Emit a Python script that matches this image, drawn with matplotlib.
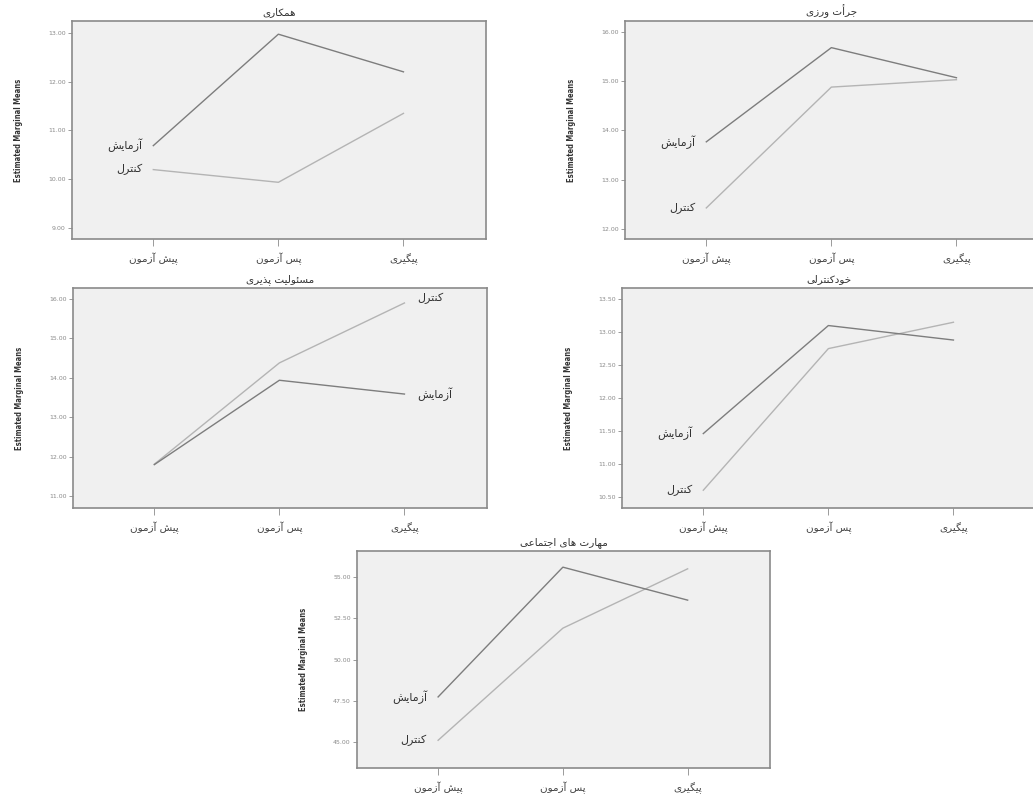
import matplotlib
matplotlib.use('Agg')
import matplotlib.pyplot as plt

# ---------------- data ----------------
time_labels = ['پیش آزمون', 'پس آزمون', 'پیگیری']
group_exp = 'آزمایش'
group_ctrl = 'کنترل'
ylabel_text = 'Estimated Marginal Means'

title_coop = 'همکاری'
title_assert = 'جرأت ورزی'
title_resp = 'مسئولیت پذیری'
title_selfc = 'خودکنترلی'
title_social = 'مهارت های اجتماعی'

coop_exp = [10.69, 12.97, 12.20]
coop_ctrl = [10.20, 9.94, 11.35]
coop_ticks = [9.0, 10.0, 11.0, 12.0, 13.0]

assert_exp = [13.77, 15.68, 15.07]
assert_ctrl = [12.43, 14.88, 15.03]
assert_ticks = [12.0, 13.0, 14.0, 15.0, 16.0]

resp_exp = [11.80, 13.94, 13.59]
resp_ctrl = [11.81, 14.38, 15.90]
resp_ticks = [11.0, 12.0, 13.0, 14.0, 15.0, 16.0]

selfc_exp = [11.46, 13.10, 12.88]
selfc_ctrl = [10.60, 12.75, 13.15]
selfc_ticks = [10.5, 11.0, 11.5, 12.0, 12.5, 13.0, 13.5]

social_exp = [47.73, 55.60, 53.60]
social_ctrl = [45.10, 51.90, 55.50]
social_ticks = [45.0, 47.5, 50.0, 52.5, 55.0]

# ---------------- Persian shaping (presentation forms) ----------------
FORMS = {
    'آ': ('\uFE81', '\uFE82', None, None),
    'أ': ('\uFE83', '\uFE84', None, None),
    'ئ': ('\uFE89', '\uFE8A', '\uFE8B', '\uFE8C'),
    'ا': ('\uFE8D', '\uFE8E', None, None),
    'ب': ('\uFE8F', '\uFE90', '\uFE91', '\uFE92'),
    'ت': ('\uFE95', '\uFE96', '\uFE97', '\uFE98'),
    'ج': ('\uFE9D', '\uFE9E', '\uFE9F', '\uFEA0'),
    'خ': ('\uFEA5', '\uFEA6', '\uFEA7', '\uFEA8'),
    'د': ('\uFEA9', '\uFEAA', None, None),
    'ذ': ('\uFEAB', '\uFEAC', None, None),
    'ر': ('\uFEAD', '\uFEAE', None, None),
    'ز': ('\uFEAF', '\uFEB0', None, None),
    'س': ('\uFEB1', '\uFEB2', '\uFEB3', '\uFEB4'),
    'ش': ('\uFEB5', '\uFEB6', '\uFEB7', '\uFEB8'),
    'ع': ('\uFEC9', '\uFECA', '\uFECB', '\uFECC'),
    'ل': ('\uFEDD', '\uFEDE', '\uFEDF', '\uFEE0'),
    'م': ('\uFEE1', '\uFEE2', '\uFEE3', '\uFEE4'),
    'ن': ('\uFEE5', '\uFEE6', '\uFEE7', '\uFEE8'),
    'ه': ('\uFEE9', '\uFEEA', '\uFEEB', '\uFEEC'),
    'و': ('\uFEED', '\uFEEE', None, None),
    'ی': ('\uFBFC', '\uFBFD', '\uFBFE', '\uFBFF'),
    'پ': ('\uFB56', '\uFB57', '\uFB58', '\uFB59'),
    'ک': ('\uFB8E', '\uFB8F', '\uFB90', '\uFB91'),
    'گ': ('\uFB92', '\uFB93', '\uFB94', '\uFB95'),
}


def fa(text):
    out = []
    n = len(text)
    for i, ch in enumerate(text):
        if ch not in FORMS:
            out.append(ch)
            continue
        iso, fin, ini, med = FORMS[ch]
        prev = text[i - 1] if i > 0 else None
        nxt = text[i + 1] if i < n - 1 else None
        jp = prev in FORMS and FORMS[prev][2] is not None
        jn = ini is not None and nxt in FORMS
        if jp and jn:
            out.append(med)
        elif jp:
            out.append(fin)
        elif jn:
            out.append(ini)
        else:
            out.append(iso)
    return ''.join(reversed(out))


plt.rcParams['font.family'] = ['DejaVu Sans']

W, H = 1033, 801
fig = plt.figure(figsize=(W / 100, H / 100), dpi=100)
fig.patch.set_facecolor('white')


def px_axes(left, top, right, bottom):
    return fig.add_axes([left / W, 1 - bottom / H, (right - left) / W, (bottom - top) / H])


EXP_COL = '#7d7d7d'
CTRL_COL = '#b4b4b4'
FRAME = '#8a8a8a'


def panel(box, title, exp, ctrl, ticks, ylim, label_side='left', label_offsets=(0, 0)):
    ax = px_axes(*box)
    ax.set_facecolor('#f0f0f0')
    x = [1, 2, 3]
    ax.plot(x, ctrl, color=CTRL_COL, lw=1.0)
    ax.plot(x, exp, color=EXP_COL, lw=1.0)
    ax.set_xlim(0.35, 3.66)
    ax.set_ylim(*ylim)
    ax.set_yticks(ticks)
    ax.set_yticklabels(['%.2f' % t for t in ticks], fontsize=4.5, color='#8a8a8a')
    ax.set_xticks(x)
    ax.set_xticklabels([fa(t) for t in time_labels], fontsize=7.5, color='#444444')
    ax.tick_params(axis='y', length=3, width=0.6, color=FRAME, pad=1.5)
    ax.tick_params(axis='x', length=5, width=0.6, color=FRAME, pad=5)
    for s in ax.spines.values():
        s.set_color(FRAME)
        s.set_linewidth(1.2)
    ax.set_title(fa(title), fontsize=7.5, color='#333333', pad=4)
    ax.set_ylabel(ylabel_text, fontsize=5.5, fontweight='bold', color='#333333',
                  fontstretch='condensed', labelpad=18)
    if label_side == 'left':
        ax.annotate(fa(group_exp), (1, exp[0]), xytext=(-8, label_offsets[0]),
                    textcoords='offset points', ha='right', va='center',
                    fontsize=8, color='#333333')
        ax.annotate(fa(group_ctrl), (1, ctrl[0]), xytext=(-8, label_offsets[1]),
                    textcoords='offset points', ha='right', va='center',
                    fontsize=8, color='#333333')
    else:
        ax.annotate(fa(group_exp), (3, exp[2]), xytext=(9, label_offsets[0]),
                    textcoords='offset points', ha='left', va='center',
                    fontsize=8, color='#333333')
        ax.annotate(fa(group_ctrl), (3, ctrl[2]), xytext=(9, label_offsets[1]),
                    textcoords='offset points', ha='left', va='center',
                    fontsize=8, color='#333333')
    return ax


panel((72, 21, 486, 239), title_coop, coop_exp, coop_ctrl, coop_ticks, (8.78, 13.24))
panel((625, 21, 1039, 239), title_assert, assert_exp, assert_ctrl, assert_ticks, (11.8, 16.22))
panel((73, 288, 487, 508), title_resp, resp_exp, resp_ctrl, resp_ticks, (10.7, 16.28),
      label_side='right', label_offsets=(0, 3))
panel((622, 288, 1036, 508), title_selfc, selfc_exp, selfc_ctrl, selfc_ticks, (10.33, 13.67))
panel((357, 551, 770, 768), title_social, social_exp, social_ctrl, social_ticks, (43.42, 56.58))

fig.savefig('out.png', dpi=100, facecolor='white')
